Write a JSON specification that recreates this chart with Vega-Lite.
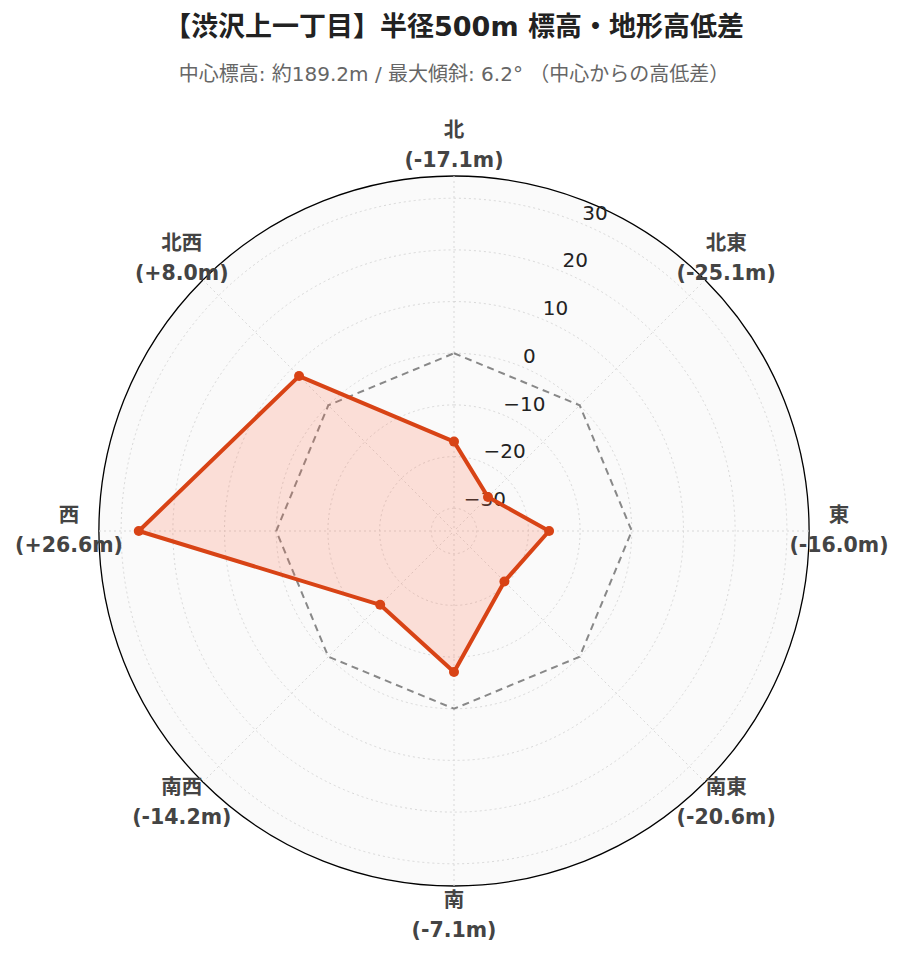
{
  "$schema": "https://vega.github.io/schema/vega-lite/v6.json",
  "width": 710,
  "height": 710,
  "autosize": {"type": "none"},
  "padding": {"left": 99, "top": 176, "right": 94, "bottom": 76},
  "background": "white",
  "config": {"view": {"stroke": null}, "font": "DejaVu Sans, Noto Sans CJK JP"},
  "title": {
    "text": "【渋沢上一丁目】半径500m 標高・地形高低差",
    "subtitle": "中心標高: 約189.2m / 最大傾斜: 6.2° （中心からの高低差）",
    "anchor": "middle",
    "frame": "group",
    "font": "DejaVu Sans, Noto Sans CJK JP",
    "fontSize": 27,
    "fontWeight": "bold",
    "color": "#222222",
    "subtitleFont": "DejaVu Sans, Noto Sans CJK JP",
    "subtitleFontSize": 20,
    "subtitleColor": "#666666",
    "subtitlePadding": 23,
    "offset": 35
  },
  "datasets": {
    "dirs": [
      {"idx": 0, "dir": "北", "angle": 0, "value": -17.1, "label": "北\n(-17.1m)"},
      {"idx": 1, "dir": "北東", "angle": 45, "value": -25.1, "label": "北東\n(-25.1m)"},
      {"idx": 2, "dir": "東", "angle": 90, "value": -16.0, "label": "東\n(-16.0m)"},
      {"idx": 3, "dir": "南東", "angle": 135, "value": -20.6, "label": "南東\n(-20.6m)"},
      {"idx": 4, "dir": "南", "angle": 180, "value": -7.1, "label": "南\n(-7.1m)"},
      {"idx": 5, "dir": "南西", "angle": 225, "value": -14.2, "label": "南西\n(-14.2m)"},
      {"idx": 6, "dir": "西", "angle": 270, "value": 26.6, "label": "西\n(+26.6m)"},
      {"idx": 7, "dir": "北西", "angle": 315, "value": 8.0, "label": "北西\n(+8.0m)"}
    ],
    "rings": [
      {"v": -30}, {"v": -20}, {"v": -10}, {"v": 0}, {"v": 10}, {"v": 20}, {"v": 30}
    ],
    "outer": [{"v": 34.3}]
  },
  "layer": [
    {
      "data": {"name": "outer"},
      "mark": {"type": "arc", "theta": 0, "theta2": 6.2832, "fill": "#fafafa", "stroke": "#000000", "strokeWidth": 1.3},
      "encoding": {
        "radius": {"field": "v", "type": "quantitative", "stack": null, "scale": {"type": "linear", "domain": [-34.4, 34.3], "range": [0, 355], "zero": false}},
        "radius2": {"value": 0}
      }
    },
    {
      "data": {"name": "rings"},
      "mark": {"type": "arc", "theta": 0, "theta2": 6.2832, "filled": false, "stroke": "#d8d8d8", "strokeWidth": 1, "strokeDash": [2, 3]},
      "encoding": {
        "radius": {"field": "v", "type": "quantitative", "stack": null, "scale": {"type": "linear", "domain": [-34.4, 34.3], "range": [0, 355], "zero": false}},
        "radius2": {"value": 0}
      }
    },
    {
      "data": {"name": "dirs"},
      "transform": [
        {"calculate": "68.7 * sin(datum.angle * PI / 180)", "as": "ex"},
        {"calculate": "68.7 * cos(datum.angle * PI / 180)", "as": "ey"}
      ],
      "mark": {"type": "rule", "stroke": "#d8d8d8", "strokeWidth": 1, "strokeDash": [2, 3]},
      "encoding": {
        "x": {"field": "ex", "type": "quantitative", "scale": {"domain": [-68.7, 68.7], "nice": false, "zero": false}, "axis": null},
        "y": {"field": "ey", "type": "quantitative", "scale": {"domain": [-68.7, 68.7], "nice": false, "zero": false}, "axis": null},
        "x2": {"datum": 0},
        "y2": {"datum": 0}
      }
    },
    {
      "data": {"name": "rings"},
      "transform": [
        {"calculate": "(datum.v + 34.4) * sin(22.5 * PI / 180)", "as": "tx"},
        {"calculate": "(datum.v + 34.4) * cos(22.5 * PI / 180)", "as": "ty"}
      ],
      "mark": {"type": "text", "align": "left", "baseline": "middle", "dx": 1, "dy": -10, "fontSize": 20, "fill": "#222222", "font": "DejaVu Sans"},
      "encoding": {
        "x": {"field": "tx", "type": "quantitative", "scale": {"domain": [-68.7, 68.7], "nice": false, "zero": false}, "axis": null},
        "y": {"field": "ty", "type": "quantitative", "scale": {"domain": [-68.7, 68.7], "nice": false, "zero": false}, "axis": null},
        "text": {"field": "v", "type": "quantitative", "format": "d"}
      }
    },
    {
      "data": {"name": "dirs"},
      "transform": [
        {"calculate": "34.4 * sin(datum.angle * PI / 180)", "as": "zx"},
        {"calculate": "34.4 * cos(datum.angle * PI / 180)", "as": "zy"}
      ],
      "mark": {"type": "line", "interpolate": "linear-closed", "stroke": "#888888", "strokeWidth": 2, "strokeDash": [7, 5]},
      "encoding": {
        "x": {"field": "zx", "type": "quantitative", "scale": {"domain": [-68.7, 68.7], "nice": false, "zero": false}, "axis": null},
        "y": {"field": "zy", "type": "quantitative", "scale": {"domain": [-68.7, 68.7], "nice": false, "zero": false}, "axis": null},
        "order": {"field": "idx", "type": "quantitative"}
      }
    },
    {
      "data": {"name": "dirs"},
      "transform": [
        {"calculate": "(datum.value + 34.4) * sin(datum.angle * PI / 180)", "as": "px"},
        {"calculate": "(datum.value + 34.4) * cos(datum.angle * PI / 180)", "as": "py"}
      ],
      "mark": {"type": "line", "interpolate": "linear-closed", "fill": "#ff6e4a", "fillOpacity": 0.2, "stroke": "#d84315", "strokeWidth": 4, "strokeJoin": "round"},
      "encoding": {
        "x": {"field": "px", "type": "quantitative", "scale": {"domain": [-68.7, 68.7], "nice": false, "zero": false}, "axis": null},
        "y": {"field": "py", "type": "quantitative", "scale": {"domain": [-68.7, 68.7], "nice": false, "zero": false}, "axis": null},
        "order": {"field": "idx", "type": "quantitative"}
      }
    },
    {
      "data": {"name": "dirs"},
      "transform": [
        {"calculate": "(datum.value + 34.4) * sin(datum.angle * PI / 180)", "as": "px"},
        {"calculate": "(datum.value + 34.4) * cos(datum.angle * PI / 180)", "as": "py"}
      ],
      "mark": {"type": "point", "filled": true, "size": 100, "fill": "#d84315", "opacity": 1},
      "encoding": {
        "x": {"field": "px", "type": "quantitative", "scale": {"domain": [-68.7, 68.7], "nice": false, "zero": false}, "axis": null},
        "y": {"field": "py", "type": "quantitative", "scale": {"domain": [-68.7, 68.7], "nice": false, "zero": false}, "axis": null}
      }
    },
    {
      "data": {"name": "dirs"},
      "transform": [
        {"calculate": "74.5 * sin(datum.angle * PI / 180)", "as": "lx"},
        {"calculate": "74.5 * cos(datum.angle * PI / 180)", "as": "ly"}
      ],
      "mark": {"type": "text", "align": "center", "baseline": "middle", "dy": -15, "lineBreak": "\n", "lineHeight": 30, "fontSize": 20.5, "fontWeight": "bold", "fill": "#444444"},
      "encoding": {
        "x": {"field": "lx", "type": "quantitative", "scale": {"domain": [-68.7, 68.7], "nice": false, "zero": false}, "axis": null},
        "y": {"field": "ly", "type": "quantitative", "scale": {"domain": [-68.7, 68.7], "nice": false, "zero": false}, "axis": null},
        "text": {"field": "label", "type": "nominal"}
      }
    }
  ]
}
